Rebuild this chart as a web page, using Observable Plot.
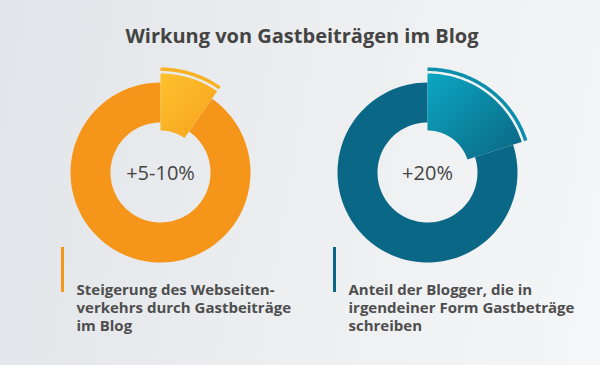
<!DOCTYPE html>
<html><head><meta charset="utf-8">
<script src="https://cdn.jsdelivr.net/npm/d3@7"></script>
<script src="https://cdn.jsdelivr.net/npm/@observablehq/plot@0.6"></script>
<style>
html,body{margin:0;padding:0;}
body{width:600px;height:365px;overflow:hidden;background:linear-gradient(100deg,#e2e5e9 0%,#eceef0 50%,#f5f6f7 100%);font-family:"Open Sans",sans-serif;}
#title{height:50px;box-sizing:border-box;padding-top:22px;text-align:center;font-size:20px;font-weight:700;color:#444;line-height:27px;padding-left:4px;}
</style></head><body>
<div id="title"></div>
<div id="chart"></div>
<script>
// ---- data ----
const chartTitle = "Wirkung von Gastbeiträgen im Blog";
const centerLabels = ["+5-10%", "+20%"];
const shares = [0.097, 0.20];
const captions = [
  "Steigerung des Webseiten-\nverkehrs durch Gastbeiträge\nim Blog",
  "Anteil der Blogger, die in\nirgendeiner Form Gastbeträge\nschreiben"
];

// ---- styles / layout ----
const ringColors = ["#f5961a", "#0b6786"];
const arcColors = ["#f9b224", "#0b8fad"];
const grads = [["#fdc22e", "#f7a11c"], ["#0ba7c2", "#0b6582"]];
const centers = [[160, 172], [427, 172]];
const R = {inner: 50, outer: 90, sliceIn: 42, sliceOut: 99, arcIn: 101.5, arcOut: 105};

document.getElementById("title").textContent = chartTitle;

function band(id, cx, cy, r0, r1, a0, a1) {
  const n = 90, pts = [];
  for (let i = 0; i <= n; i++) {
    const a = a0 + (a1 - a0) * i / n;
    pts.push({id, x: cx + r1 * Math.sin(a), y: cy - r1 * Math.cos(a)});
  }
  for (let i = n; i >= 0; i--) {
    const a = a0 + (a1 - a0) * i / n;
    pts.push({id, x: cx + r0 * Math.sin(a), y: cy - r0 * Math.cos(a)});
  }
  return pts;
}

const marks = [];
shares.forEach((s, i) => {
  const [cx, cy] = centers[i];
  const a = s * 2 * Math.PI;
  marks.push(Plot.line(band("ring" + i, cx, cy, R.inner, R.outer, a, 2 * Math.PI),
    {x: "x", y: "y", z: "id", fill: ringColors[i], stroke: null}));
  marks.push(Plot.line(band("slice" + i, cx, cy, R.sliceIn, R.sliceOut, 0, a),
    {x: "x", y: "y", z: "id", fill: `url(#grad${i})`, stroke: null}));
  marks.push(Plot.line(band("arc" + i, cx, cy, R.arcIn, R.arcOut, 0, a),
    {x: "x", y: "y", z: "id", fill: arcColors[i], stroke: null}));
});

const labelData = centerLabels.map((t, i) => ({t, x: centers[i][0], y: centers[i][1]}));
marks.push(Plot.text(labelData, {x: "x", y: "y", text: "t", fontSize: 20, fill: "#444", fontFamily: "Open Sans", dy: 1}));

const capX = [62, 334];
const capData = captions.map((t, i) => ({t, x: capX[i] + 14, bx: capX[i], y: 282, y1: 247, y2: 292, c: ringColors[i]}));
marks.push(Plot.ruleX(capData, {x: "bx", y1: "y1", y2: "y2", stroke: "c", strokeWidth: 3}));
marks.push(Plot.text(capData, {x: "x", y: "y", text: "t", textAnchor: "start", lineAnchor: "top", fontSize: 15, fontWeight: 700, fill: "#4e4e4e", lineHeight: 1.2, fontFamily: "Open Sans"}));

const plot = Plot.plot({
  width: 600, height: 315,
  margin: 0,
  x: {domain: [0, 600], axis: null},
  y: {domain: [50, 365], reverse: true, axis: null},
  style: {background: "transparent", overflow: "visible"},
  marks
});

const svg = d3.select(plot);
const defs = svg.insert("defs", ":first-child");
grads.forEach((g, i) => {
  const lg = defs.append("linearGradient").attr("id", "grad" + i)
    .attr("x1", "0").attr("y1", "0").attr("x2", "1").attr("y2", "1");
  lg.append("stop").attr("offset", "0%").attr("stop-color", g[0]);
  lg.append("stop").attr("offset", "100%").attr("stop-color", g[1]);
});
document.getElementById("chart").appendChild(plot);
</script>
</body></html>
